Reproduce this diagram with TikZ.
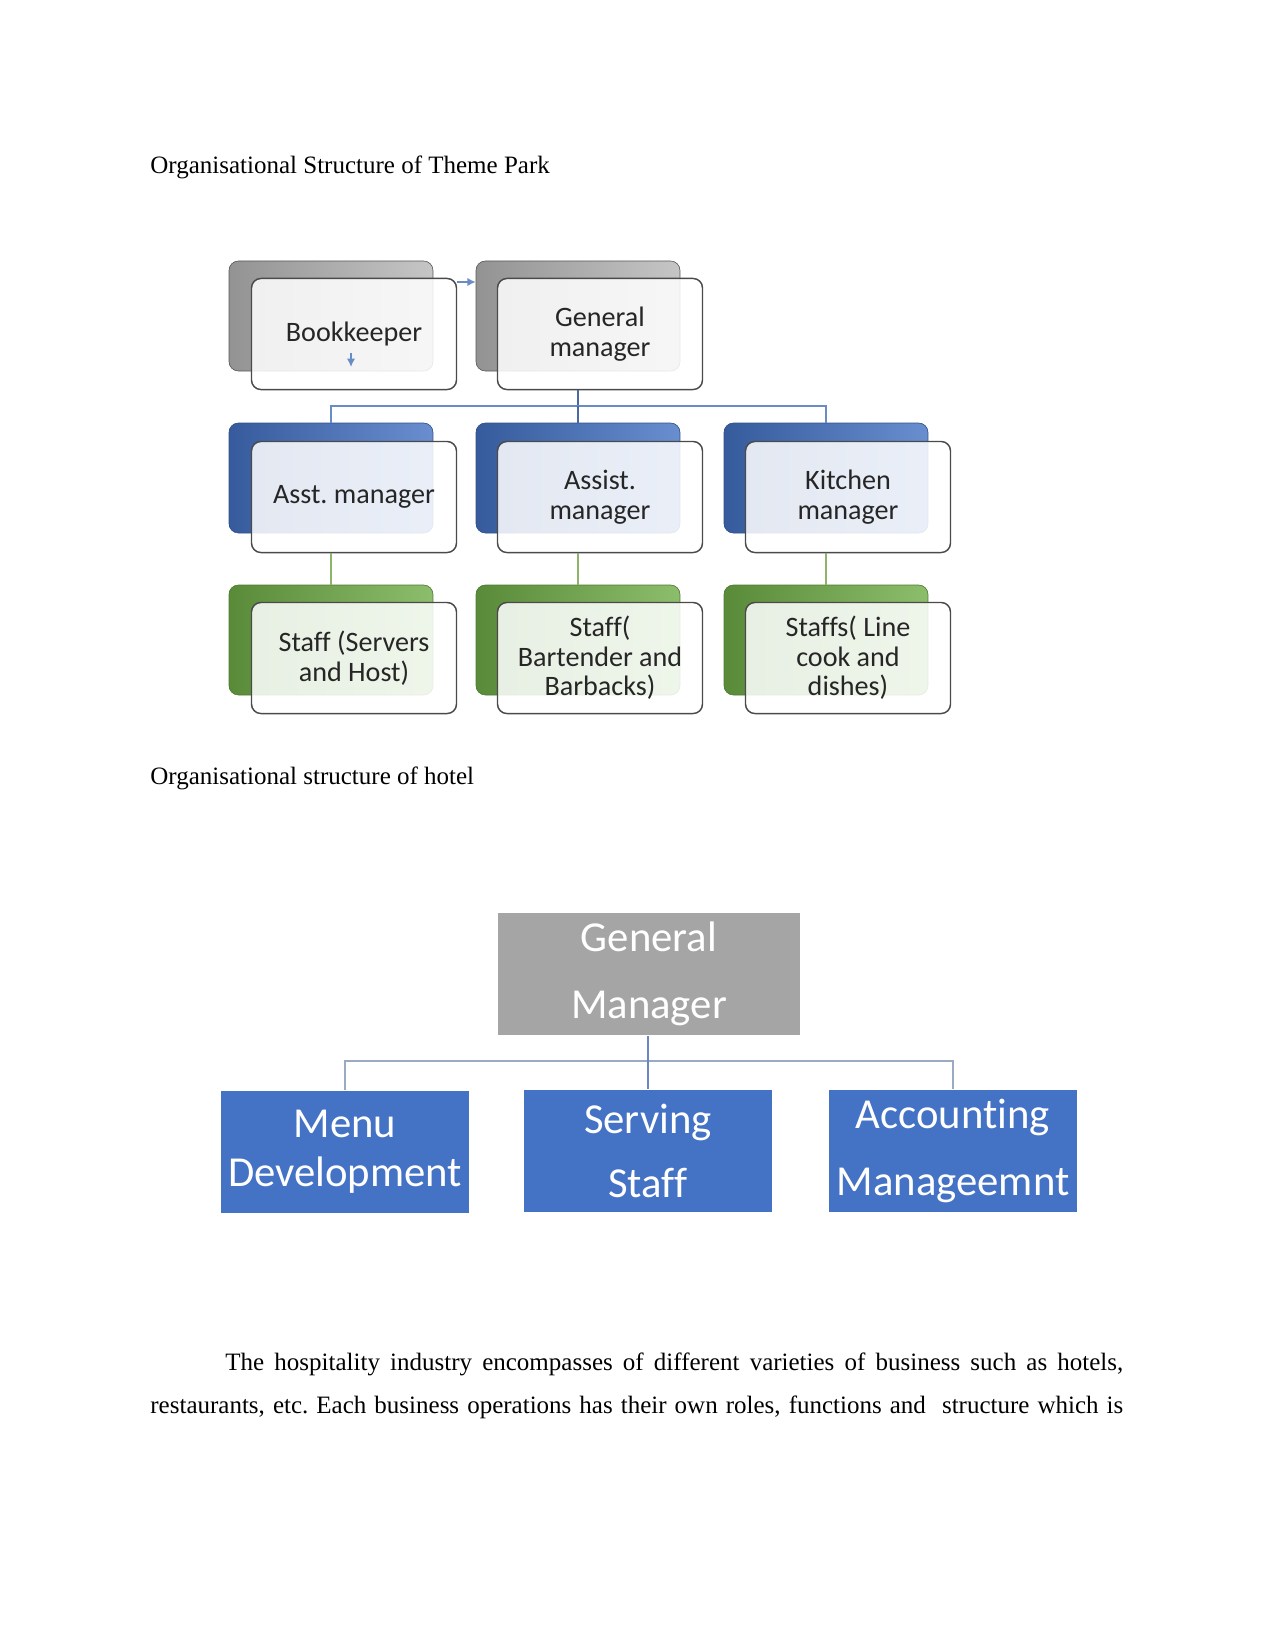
\documentclass[tikz,border=0pt]{standalone}
\usepackage{fontspec}
\setmainfont{Liberation Serif}
\newfontfamily\calibri[Ligatures=NoCommon]{Carlito}
\usetikzlibrary{arrows.meta}
\definecolor{cardline}{HTML}{4A4A4A}
\definecolor{cardtext}{HTML}{262626}
\definecolor{linkblue}{HTML}{6A8CC4}
\definecolor{stemblue}{HTML}{4A68A8}
\definecolor{linkgreen}{HTML}{8DB46A}
\definecolor{hotelline}{HTML}{9AAAC2}
\definecolor{hotelstem}{HTML}{6C86C2}
\definecolor{gmgray}{HTML}{A5A5A5}
\definecolor{unitblue}{HTML}{4472C4}
\definecolor{unitgreen}{HTML}{70AD47}
\frenchspacing

\begin{document}
\begin{tikzpicture}[x=0.48pt, y=-0.48pt,
    shadowbox/.style={rounded corners=4.5pt, minimum width=97.9pt, minimum height=52.8pt, inner sep=0pt},
    grayback/.style={shadowbox, draw=gray!70!black, line width=0.3pt, left color=gray!85, middle color=gray!60, right color=gray!45},
    blueback/.style={shadowbox, draw=unitblue!70!black, line width=0.3pt, left color=unitblue!80!black, middle color=unitblue, right color=unitblue!80},
    greenback/.style={shadowbox, draw=unitgreen!70!black, line width=0.3pt, left color=unitgreen!80!black, middle color=unitgreen, right color=unitgreen!80},
    card/.style={draw=cardline, line width=0.7pt, rounded corners=4.5pt, fill=white, fill opacity=0.86, text opacity=1,
        minimum width=98.4pt, minimum height=53.3pt, align=center, text=cardtext, inner sep=2pt,
        font=\calibri\fontsize{13.5}{14.2}\selectfont},
    hbox/.style={rectangle, inner sep=0pt, align=center, text=white, font=\calibri\fontsize{20.5}{#1}\selectfont},
    hbox/.default=32pt,
    unit/.style={hbox=#1, fill=unitblue, minimum width=119.3pt, minimum height=59pt},
    unit/.default=32pt,
    caption/.style={anchor=base west, inner sep=0pt, font=\fontsize{12}{14}\selectfont}
]
    \useasboundingbox (0,0) rectangle (1275,1651);

    % Captions
    \node[caption] (cap1) at (150,174) {Organisational Structure of Theme Park};
    \node[caption] (cap2) at (150,784) {Organisational structure of hotel};

    % Theme park: back boxes
    \node[grayback] (1S1) at (331,316) {};
    \node[grayback] (1S2) at (578,316) {};
    \node[blueback] (2S1) at (331,478) {};
    \node[blueback] (2S2) at (578,478) {};
    \node[blueback] (2S3) at (826,478) {};
    \node[greenback] (3S1) at (331,640) {};
    \node[greenback] (3S2) at (578,640) {};
    \node[greenback] (3S3) at (826,640) {};

    % Theme park: cards
    \node[card] (1C1) at (354,334) {Bookkeeper};
    \node[card] (1C2) at (600,334) {General\\manager};
    \node[card] (2C1) at (354,497) {Asst. manager};
    \node[card] (2C2) at (600,497) {Assist.\\manager};
    \node[card] (2C3) at (848,497) {Kitchen\\manager};
    \node[card] (3C1) at (354,658) {Staff (Servers\\and Host)};
    \node[card] (3C2) at (600,658) {Staff(\\Bartender and\\Barbacks)};
    \node[card] (3C3) at (848,658) {Staffs( Line\\cook and\\dishes)};

    % Theme park: lines
    \coordinate (J1) at (578,406);
    \coordinate (bkA) at (351,353);
    \draw[stemblue, line width=1pt] (1C2.south -| 1S2) -- (J1);
    \draw[linkblue, line width=1pt] (2S1.north) -- (2S1.north |- J1) -| (2S3.north);
    \draw[stemblue, line width=1pt] (J1) -- (2S2.north);
    \draw[linkgreen, line width=1pt] (2C1.south -| 2S1) -- (3S1.north);
    \draw[linkgreen, line width=1pt] (2C2.south -| 2S2) -- (3S2.north);
    \draw[linkgreen, line width=1pt] (2C3.south -| 2S3) -- (3S3.north);
    \draw[linkblue, line width=0.8pt, -{Latex[length=4pt,width=4pt]}] (1C1.east |- 0,282) -- (1S2.west |- 0,282);
    \draw[linkblue, line width=0.8pt, -{Latex[length=4pt,width=4pt]}] (bkA) -- ++(0,14);

    % Hotel: nodes
    \node[hbox, fill=gmgray, minimum width=145pt, minimum height=59pt] (GM) at (649,974) {General\\Manager};
    \node[unit=23.5pt] (MD) at (345,1152) {Menu\\Development};
    \node[unit=31pt] (SS) at (648,1151) {Serving\\Staff};
    \node[unit] (AM) at (953,1151) {Accounting\\Manageemnt};

    % Hotel: lines
    \coordinate (J2) at (648,1061);
    \draw[hotelline, line width=1pt] (MD.north) -- (MD.north |- J2) -| (AM.north);
    \draw[hotelstem, line width=1pt] (GM.south -| SS) -- (SS.north);

    % Body text
    \node[caption] (txt1) at (225,1370) {\makebox[431pt][s]{The hospitality industry encompasses of different varieties of business such as hotels,}};
    \node[caption] (txt2) at (150,1413) {\makebox[467pt][s]{restaurants, etc. Each business operations has their own roles, functions and\ \ structure which is}};
\end{tikzpicture}
\end{document}
